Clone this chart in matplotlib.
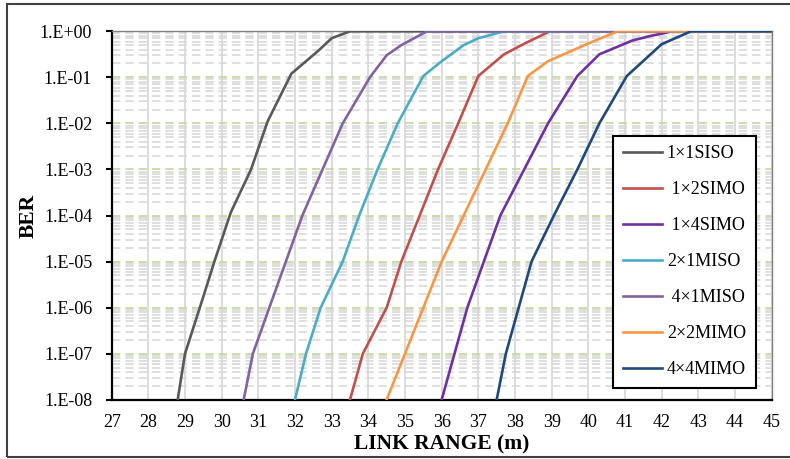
import matplotlib.pyplot as plt
from matplotlib.patches import Rectangle
from matplotlib.ticker import FixedLocator, FuncFormatter
import numpy as np

plt.rcParams['font.family'] = ['Liberation Serif', 'DejaVu Serif']

# BER curves (x = link range in m, y = log10(BER))
siso_x = [28.8, 29.0, 29.5, 29.8, 30.25, 30.8, 31.25, 31.9, 32.3, 32.65, 33.0, 33.5, 45]
siso_y = [-8, -7, -5.76, -5, -3.93, -3.0, -1.96, -0.92, -0.65, -0.41, -0.15, 0, 0]

simo2_x = [33.5, 33.85, 34.5, 34.9, 35.4, 35.9, 36.45, 37.0, 37.7, 38.3, 38.95, 45]
simo2_y = [-8, -7, -6, -5, -4, -3, -2, -0.97, -0.5, -0.25, 0, 0]

simo4_x = [36.0, 36.35, 36.7, 37.15, 37.6, 38.25, 38.9, 39.7, 40.3, 41.2, 41.7, 42.3, 45]
simo4_y = [-8, -7, -6, -5, -4, -3, -2, -0.97, -0.5, -0.2, -0.1, 0, 0]

miso2_x = [32.0, 32.3, 32.7, 33.3, 33.75, 34.25, 34.8, 35.5, 36.0, 36.6, 37.0, 37.7, 45]
miso2_y = [-8, -7, -6, -5, -4, -3, -2, -0.97, -0.65, -0.3, -0.15, 0, 0]

miso4_x = [30.6, 30.85, 31.3, 31.75, 32.2, 32.75, 33.3, 34.05, 34.5, 34.9, 35.6, 45]
miso4_y = [-8, -7, -6, -5, -4, -3, -2, -0.99, -0.52, -0.3, 0, 0]

mimo2_x = [34.5, 35.0, 35.5, 36.0, 36.6, 37.2, 37.8, 38.35, 38.9, 39.7, 40.1, 40.8, 45]
mimo2_y = [-8, -7, -6, -5, -4, -3, -2, -0.97, -0.65, -0.37, -0.23, 0, 0]

mimo4_x = [37.5, 37.75, 38.1, 38.45, 39.06, 39.7, 40.3, 41.05, 42.0, 42.8, 45]
mimo4_y = [-8, -7, -6, -5, -4, -3, -2, -0.97, -0.28, 0, 0]

series = [
    ('1×1SISO', siso_x, siso_y, '#595959'),
    (' 1×2SIMO', simo2_x, simo2_y, '#C0504D'),
    (' 1×4SIMO', simo4_x, simo4_y, '#7030A0'),
    ('2×1MISO', miso2_x, miso2_y, '#4BACC6'),
    (' 4×1MISO', miso4_x, miso4_y, '#8064A2'),
    ('2×2MIMO', mimo2_x, mimo2_y, '#F79646'),
    ('4×4MIMO', mimo4_x, mimo4_y, '#1F497D'),
]

fig = plt.figure(figsize=(7.9, 4.59), dpi=100)
ax = fig.add_axes([0.1414, 0.1292, 0.8354, 0.8026])

for label, xs, ys, color in series:
    ax.plot(xs, 10.0 ** np.array(ys), color=color, lw=1.9, label=label,
            solid_joinstyle='miter', zorder=3)

ax.set_yscale('log')
ax.set_xlim(27, 45)
ax.set_ylim(1e-8, 1)
ax.set_xticks(range(27, 46))

ax.yaxis.set_major_locator(FixedLocator([10.0 ** k for k in range(-8, 1)]))
minor = [m * 10.0 ** k for k in range(-8, 0) for m in range(2, 10)]
ax.yaxis.set_minor_locator(FixedLocator(minor))
ax.yaxis.set_major_formatter(FuncFormatter(
    lambda v, p: '1.E%+03d' % int(round(np.log10(v)))))
ax.yaxis.set_minor_formatter(FuncFormatter(lambda v, p: ''))

# grid: solid grey verticals, green dashed decades, grey dashed minor
ax.grid(True, which='major', axis='x', color='#D9D9D9', lw=1.3, zorder=0)
ax.grid(True, which='major', axis='y', color='#C3D69B', lw=1.2,
        linestyle=(0, (5, 3)), zorder=0)
ax.grid(True, which='minor', axis='y', color='#D9D9D9', lw=1.2,
        linestyle=(0, (5, 3)), zorder=0)

ax.tick_params(axis='x', length=0, pad=10, labelsize=13)
ax.tick_params(axis='y', which='major', length=4, width=1.5, pad=10,
               labelsize=13, direction='out')
ax.tick_params(axis='y', which='minor', length=0)

for s in ['left', 'bottom']:
    ax.spines[s].set_color('black')
    ax.spines[s].set_linewidth(1.6)
for s in ['top', 'right']:
    ax.spines[s].set_color('#808080')
    ax.spines[s].set_linewidth(1.0)

ax.set_xlabel('LINK RANGE (m)', fontsize=15.5, fontweight='bold', labelpad=3)
ax.set_ylabel('BER', fontsize=15.5, fontweight='bold', labelpad=1)

leg = ax.legend(loc='upper left', bbox_to_anchor=(0.759, 0.717),
                fontsize=13, frameon=True, fancybox=False,
                handlelength=2.2, handletextpad=0.25, labelspacing=1.05,
                borderpad=0.55, borderaxespad=0)
leg.get_frame().set_edgecolor('black')
leg.get_frame().set_linewidth(1.5)
leg.get_frame().set_alpha(1)

# outer chart border (right side runs off the image)
fig.patches.append(Rectangle((7 / 790, 1 - 457 / 459), 800 / 790, 453 / 459,
                             transform=fig.transFigure, fill=False,
                             edgecolor='#404040', lw=1.5))

fig.savefig('out.png', dpi=100)
